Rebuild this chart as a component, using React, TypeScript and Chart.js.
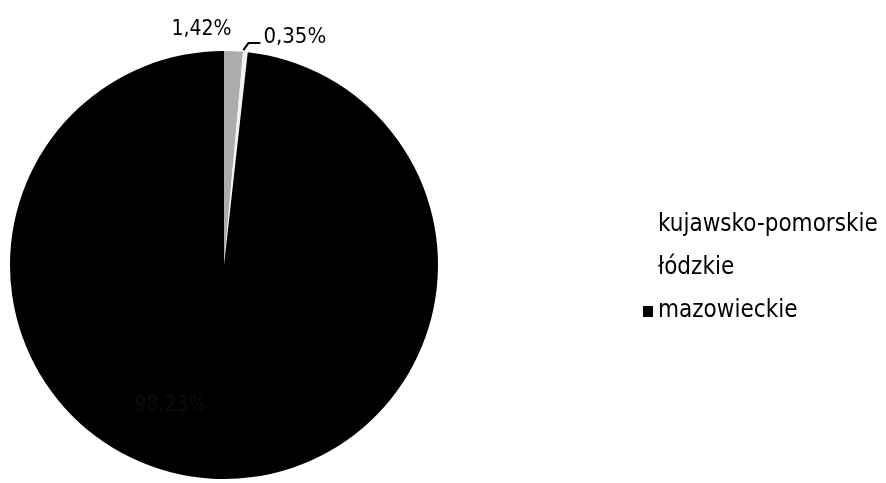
import React, { useEffect, useRef } from "react";
import { Chart, registerables } from "chart.js";

Chart.register(...registerables);

const categories = ["kujawsko-pomorskie", "łódzkie", "mazowieckie"];
const shares = [1.42, 0.35, 98.23];
const valueLabels = ["1,42%", "0,35%", "98,23%"];
const sliceColors = ["#acacac", "#f2f2f2", "#000000"];
const legendMarkerColors = ["#ffffff", "#ffffff", "#000000"];

const FONT = "'DejaVu Sans Condensed', 'DejaVu Sans', sans-serif";

const labelsPlugin = {
  id: "sliceLabels",
  afterDatasetsDraw(chart: any) {
    const meta = chart.getDatasetMeta(0);
    const ctx = chart.ctx;
    ctx.save();
    ctx.textBaseline = "alphabetic";
    meta.data.forEach((arc: any, i: number) => {
      const { x, y, startAngle, endAngle, outerRadius } = arc.getProps(
        ["x", "y", "startAngle", "endAngle", "outerRadius"],
        true
      );
      const mid = (startAngle + endAngle) / 2;
      const px = x + Math.cos(mid) * outerRadius;
      const py = y + Math.sin(mid) * outerRadius;
      if (i === 0) {
        ctx.font = `21px ${FONT}`;
        ctx.fillStyle = "#000";
        ctx.textAlign = "right";
        ctx.fillText(valueLabels[i], px - 2, py - 16);
      } else if (i === 1) {
        ctx.font = `22px ${FONT}`;
        ctx.strokeStyle = "#000";
        ctx.lineWidth = 2;
        ctx.beginPath();
        ctx.moveTo(px - 2, py - 2);
        ctx.lineTo(px + 3, py - 9);
        ctx.lineTo(px + 15, py - 9);
        ctx.stroke();
        ctx.fillStyle = "#000";
        ctx.textAlign = "left";
        ctx.fillText(valueLabels[i], px + 18, py - 9);
      } else {
        ctx.font = `21px ${FONT}`;
        ctx.fillStyle = "#0c0c0c";
        ctx.textAlign = "center";
        ctx.fillText(valueLabels[i], x - outerRadius * 0.25, y + outerRadius * 0.68);
      }
    });
    ctx.restore();
  },
};

const legendPlugin = {
  id: "sideLegend",
  afterDraw(chart: any) {
    const ctx = chart.ctx;
    const area = chart.chartArea;
    const cy = (area.top + area.bottom) / 2;
    const x0 = area.right + 205;
    ctx.save();
    ctx.font = `24px ${FONT}`;
    ctx.textBaseline = "alphabetic";
    ctx.textAlign = "left";
    categories.forEach((name, i) => {
      const base = cy + (i - 1) * 43 + 9;
      ctx.fillStyle = legendMarkerColors[i];
      ctx.fillRect(x0, base - 11, 10, 11);
      ctx.fillStyle = "#000";
      ctx.fillText(name, x0 + 15, base);
    });
    ctx.restore();
  },
};

export default function App() {
  const ref = useRef<HTMLCanvasElement>(null);
  useEffect(() => {
    if (!ref.current) return;
    const chart = new Chart(ref.current, {
      type: "pie",
      data: {
        labels: categories,
        datasets: [
          {
            data: shares,
            backgroundColor: sliceColors,
            borderWidth: 0,
          },
        ],
      },
      options: {
        animation: false,
        responsive: false,
        layout: { padding: { left: 10, right: 448, top: 50, bottom: 3 } },
        plugins: {
          legend: { display: false },
          tooltip: { enabled: false },
        },
      },
      plugins: [labelsPlugin, legendPlugin],
    });
    return () => chart.destroy();
  }, []);
  return (
    <div style={{ position: "fixed", left: 0, top: 0, width: 886, height: 483, background: "#fff" }}>
      <canvas ref={ref} width={886} height={483} />
    </div>
  );
}
